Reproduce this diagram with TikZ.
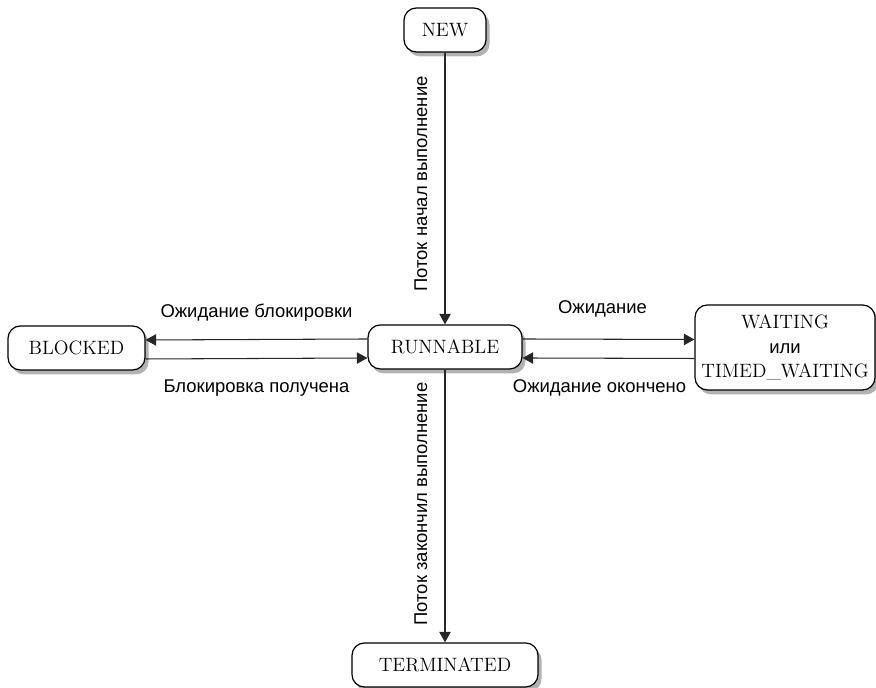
\documentclass[tikz,border=0pt]{standalone}
\usepackage{fontspec}
\newfontfamily\labelfont{Liberation Sans}
\usetikzlibrary{arrows.meta,shadows}

\begin{document}
\begin{tikzpicture}[x=0.02cm,y=0.02cm,
    state/.style={draw=black, line width=0.7pt, fill=white, rounded corners=7pt,
        minimum height=0.88cm, inner sep=0pt, align=center,
        font=\fontsize{11}{14}\selectfont,
        drop shadow={shadow xshift=2pt, shadow yshift=-2.5pt, opacity=0.3, fill=black}},
    trans/.style={draw=black!85, line width=0.6pt, -{Triangle[length=6pt,width=6.5pt]}},
    lbl/.style={font=\labelfont\fontsize{10.5}{12}\selectfont, inner sep=0pt}]

    \useasboundingbox (0,0) rectangle (876,688);

    % States
    \node[state, minimum width=1.64cm] (new) at (445,658) {NEW};
    \node[state, minimum width=3.08cm] (runnable) at (445,341) {RUNNABLE};
    \node[state, minimum width=2.74cm] (blocked) at (76.5,340) {BLOCKED};
    \node[state, minimum width=3.6cm, minimum height=1.7cm] (waiting) at (785,340.5)
        {WAITING\\{\labelfont\fontsize{10.5}{12}\selectfont или}\\TIMED\_WAITING};
    \node[state, minimum width=3.72cm] (terminated) at (445,23) {TERMINATED};

    % Start and end
    \draw[trans] (new) -- (runnable);
    \draw[trans] (runnable) -- (terminated);
    \node[lbl, rotate=90, anchor=base] (started) at (427,504) {Поток начал выполнение};
    \node[lbl, rotate=90, anchor=base] (finished) at (427,184) {Поток закончил выполнение};

    % Blocked
    \draw[trans] ([yshift=0.16cm]runnable.west) -- ([yshift=0.16cm]blocked.east)
        node[lbl, midway, anchor=base, yshift=0.44cm] (lockwait) {Ожидание блокировки};
    \draw[trans] ([yshift=-0.22cm]blocked.east) -- ([yshift=-0.22cm]runnable.west)
        node[lbl, midway, anchor=base, yshift=-0.68cm] (lockgot) {Блокировка получена};

    % Waiting
    \draw[trans] ([yshift=0.16cm]runnable.east) -- ([yshift=0.16cm]waiting.west)
        node[lbl, midway, anchor=base, yshift=0.52cm, xshift=-0.12cm] (wait) {Ожидание};
    \draw[trans] ([yshift=-0.22cm]waiting.west) -- ([yshift=-0.22cm]runnable.east)
        node[lbl, midway, anchor=base, yshift=-0.68cm, xshift=-0.18cm] (waitdone) {Ожидание окончено};

\end{tikzpicture}
\end{document}
